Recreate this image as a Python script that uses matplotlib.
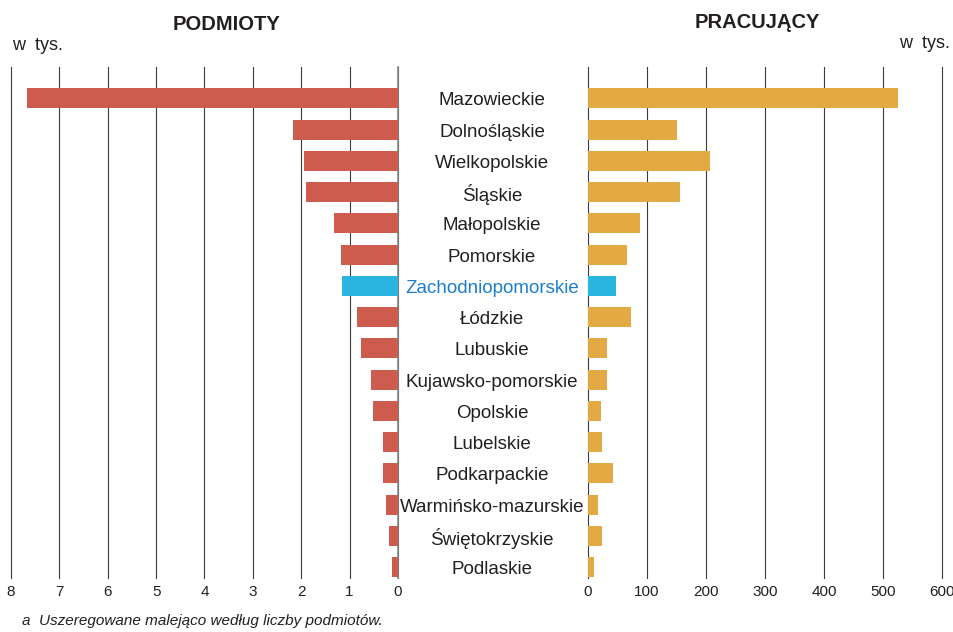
import numpy as np
import matplotlib.pyplot as plt
import matplotlib.transforms as mtransforms

plt.rcParams['font.family'] = ['Liberation Sans', 'DejaVu Sans']

# Data
regions = ['Mazowieckie', 'Dolnośląskie', 'Wielkopolskie', 'Śląskie',
           'Małopolskie', 'Pomorskie', 'Zachodniopomorskie', 'Łódzkie',
           'Lubuskie', 'Kujawsko-pomorskie', 'Opolskie', 'Lubelskie',
           'Podkarpackie', 'Warmińsko-mazurskie', 'Świętokrzyskie', 'Podlaskie']
podmioty = [7.67, 2.17, 1.94, 1.90, 1.32, 1.18, 1.16, 0.85,
            0.76, 0.56, 0.52, 0.31, 0.31, 0.25, 0.19, 0.12]
pracujacy = [525, 151, 207, 156, 88, 66, 47, 73,
             32, 32, 22, 24, 42, 17, 24, 10]
highlight = 'Zachodniopomorskie'

left_ticks = [8, 7, 6, 5, 4, 3, 2, 1, 0]
right_ticks = [0, 100, 200, 300, 400, 500, 600]

red = '#cd5c4e'
orange = '#e3a942'
blue = '#29b5e0'
text_col = '#231f20'
grid_col = '#3c3c3c'

W, H = 954, 632
fig = plt.figure(figsize=(W / 100, H / 100), dpi=100)

def px_axes(x0, x1, ytop, ybot):
    return fig.add_axes([x0 / W, (H - ybot) / H, (x1 - x0) / W, (ybot - ytop) / H])

ax_l = px_axes(11, 398, 67, 578)
ax_r = px_axes(588, 942, 67, 578)

y = np.arange(len(regions))
colors_l = [blue if r == highlight else red for r in regions]
colors_r = [blue if r == highlight else orange for r in regions]

ax_l.barh(y, podmioty, height=0.64, color=colors_l, zorder=3)
ax_r.barh(y, pracujacy, height=0.64, color=colors_r, zorder=3)

ax_l.set_xlim(8, 0)
ax_r.set_xlim(0, 600)
for ax, ticks in ((ax_l, left_ticks), (ax_r, right_ticks)):
    ax.set_ylim(15.35, -1.0)
    ax.set_xticks(ticks)
    ax.set_xticklabels([str(t) for t in ticks])
    ax.set_yticks([])
    ax.tick_params(axis='x', length=0, pad=5, labelsize=11, labelcolor=text_col)
    for s in ax.spines.values():
        s.set_visible(False)
    for t in ticks:
        ax.axvline(t, color=grid_col, lw=0.8, zorder=1, clip_on=False)
    ax.patch.set_alpha(0)

# zero line on the left panel is lighter
ax_l.axvline(0, color='#8a8a8a', lw=1.2, zorder=2, clip_on=False)

# region labels in the middle
trans = mtransforms.blended_transform_factory(fig.transFigure, ax_l.transData)
for yi, r in zip(y, regions):
    fig.text(492 / W, yi + 0.08, r, transform=trans, ha='center', va='center',
             fontsize=13.5, color='#1a7fd0' if r == highlight else text_col)

# titles and units
fig.text(227 / W, 1 - 24 / H, 'PODMIOTY', ha='center', va='center',
         fontsize=14.5, fontweight='bold', color=text_col)
fig.text(757 / W, 1 - 22 / H, 'PRACUJĄCY', ha='center', va='center',
         fontsize=14.5, fontweight='bold', color=text_col)
fig.text(12 / W, 1 - 45 / H, 'w  tys.', ha='left', va='center',
         fontsize=13, color=text_col)
fig.text(950 / W, 1 - 43 / H, 'w  tys.', ha='right', va='center',
         fontsize=13, color=text_col)

# footnote
fig.text(22 / W, 1 - 621 / H, 'a  Uszeregowane malejąco według liczby podmiotów.',
         ha='left', va='center', fontsize=11, style='italic', color=text_col)

fig.savefig('out.png', dpi=100)
